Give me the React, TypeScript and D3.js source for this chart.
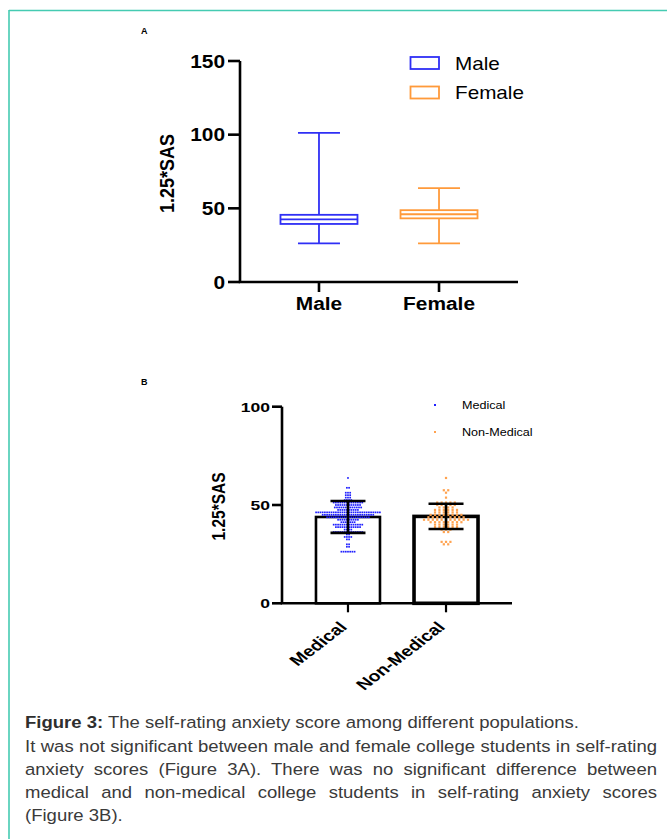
import React, { useEffect, useRef } from "react";
import * as d3 from "d3";

// ---------- Panel A data (box plot) ----------
const boxGroups = ["Male", "Female"];
const boxMin = [26.25, 26.25];
const boxQ1 = [39.4, 43.2];
const boxMedian = [42.5, 46.0];
const boxQ3 = [45.6, 48.75];
const boxMax = [101.25, 63.75];
const boxColors = ["#2f2ff5", "#ff9a3a"];
const yTicksA = [0, 50, 100, 150];

// ---------- Panel B data (bar + scatter) ----------
const barGroups = ["Medical", "Non-Medical"];
const barMean = [43.9, 44.2];
const barSD = [8.1, 6.4];
const yTicksB = [0, 50, 100];
const medicalLevels = [26.25, 28.75, 30, 32.5, 33.75, 35, 36.25, 37.5, 38.75, 40, 41.25, 42.5, 43.75, 45, 46.25, 47.5, 48.75, 50, 51.25, 52.5, 53.75, 55, 56.25, 58.75, 63.75];
const medicalCounts = [7, 2, 2, 2, 4, 2, 14, 4, 12, 14, 7, 10, 20, 24, 30, 10, 13, 12, 14, 4, 3, 3, 3, 2, 1];
const nonMedicalLevels = [30, 31.25, 36.25, 37.5, 38.75, 40, 41.25, 42.5, 43.75, 45, 46.25, 47.5, 48.75, 50, 51.25, 53.75, 56.25, 57.5, 63.75];
const nonMedicalCounts = [2, 3, 2, 3, 6, 6, 8, 11, 9, 8, 6, 6, 4, 5, 5, 1, 1, 2, 1];
const dotColors = ["#1f1fff", "#ffa24f"];

const captionTitle = "Figure 3:";
const captionLine1 = " The self-rating anxiety score among different populations.";
const captionBody = [
  "It was not significant between male and female college students in self-rating",
  "anxiety scores (Figure 3A). There was no significant difference between",
  "medical and non-medical college students in self-rating anxiety scores",
  "(Figure 3B).",
];

const FONT = "'Liberation Sans', Arial, Helvetica, sans-serif";
const CAP_SX = 1.09;
const CAP_LEFT = 25;
const CAP_WIDTH = 632;

function ST({ x, y, sx = 1, rot = 0, anchor = "start", size, weight = "normal", fill = "#000", children }: any) {
  return (
    <text
      transform={`translate(${x},${y}) scale(${sx},1)${rot ? ` rotate(${rot})` : ""}`}
      textAnchor={anchor}
      fontSize={size}
      fontWeight={weight}
      fill={fill}
      fontFamily={FONT}
    >
      {children}
    </text>
  );
}

export default function App() {
  const ref = useRef<SVGSVGElement>(null);

  useEffect(() => {
    if (!ref.current) return;
    d3.select(ref.current)
      .selectAll<SVGTextElement, unknown>("text.just")
      .each(function () {
        this.setAttribute("word-spacing", "0");
        const w = this.getComputedTextLength();
        const spaces = (this.textContent || "").split(" ").length - 1;
        if (spaces > 0) this.setAttribute("word-spacing", String((CAP_WIDTH / CAP_SX - w) / spaces));
      });
  }, []);

  // Panel A scales
  const yA = d3.scaleLinear().domain([0, 150]).range([282, 61]);
  const xA = d3.scalePoint<string>().domain(boxGroups).range([240, 518]).padding(0.658);
  const boxW = 77;
  const capW = 42;
  const sxA = 1.13;

  // Panel B scales
  const yB = d3.scaleLinear().domain([0, 100]).range([603.3, 406.7]);
  const xB = d3.scalePoint<string>().domain(barGroups).range([282, 512]).padding(0.673);
  const barW = 64;
  const errCap = 35;
  const sxB = 1.3;

  const scatter = [
    { levels: medicalLevels, counts: medicalCounts, spacing: 2.2, size: 1.7 },
    { levels: nonMedicalLevels, counts: nonMedicalCounts, spacing: 4.4, size: 2.2 },
  ];

  return (
    <svg ref={ref} width={667} height={839} style={{ position: "absolute", left: 0, top: 0, background: "#fff" }}>
      <rect x={0} y={0} width={667} height={839} fill="#fff" />
      {/* frame */}
      <line x1={9} y1={10.5} x2={667} y2={10.5} stroke="#45cbb2" strokeWidth={1.6} />
      <line x1={9} y1={10} x2={9} y2={839} stroke="#45cbb2" strokeWidth={1.6} />

      {/* ---------- Panel A ---------- */}
      <ST x={141} y={34} size={9} weight="bold">A</ST>
      <g>
        {boxGroups.map((g, i) => {
          const cx = xA(g)!;
          const c = boxColors[i];
          return (
            <g key={g} stroke={c} strokeWidth={1.8} fill="none">
              <line x1={cx} x2={cx} y1={yA(boxQ3[i])} y2={yA(boxMax[i])} />
              <line x1={cx} x2={cx} y1={yA(boxQ1[i])} y2={yA(boxMin[i])} />
              <line x1={cx - capW / 2} x2={cx + capW / 2} y1={yA(boxMax[i])} y2={yA(boxMax[i])} />
              <line x1={cx - capW / 2} x2={cx + capW / 2} y1={yA(boxMin[i])} y2={yA(boxMin[i])} />
              <rect x={cx - boxW / 2} y={yA(boxQ3[i])} width={boxW} height={yA(boxQ1[i]) - yA(boxQ3[i])} fill="#fff" />
              <line x1={cx - boxW / 2} x2={cx + boxW / 2} y1={yA(boxMedian[i])} y2={yA(boxMedian[i])} />
            </g>
          );
        })}
        {/* axes */}
        <line x1={240} x2={240} y1={yA(150)} y2={yA(0)} stroke="#000" strokeWidth={2.6} />
        <line x1={238.7} x2={518} y1={yA(0)} y2={yA(0)} stroke="#000" strokeWidth={2.6} />
        {yTicksA.map((t) => (
          <g key={t}>
            <line x1={228} x2={240} y1={yA(t)} y2={yA(t)} stroke="#000" strokeWidth={2.6} />
            <ST x={225} y={yA(t) + 6.7} sx={sxA} anchor="end" size={18.5} weight="bold">{t}</ST>
          </g>
        ))}
        {boxGroups.map((g) => (
          <g key={g}>
            <line x1={xA(g)!} x2={xA(g)!} y1={yA(0)} y2={yA(0) + 10} stroke="#000" strokeWidth={2.6} />
            <ST x={xA(g)!} y={310} sx={sxA} anchor="middle" size={18.5} weight="bold">{g}</ST>
          </g>
        ))}
        <ST x={174} y={yA(75) + 2} sx={1.1} rot={-90} anchor="middle" size={18} weight="bold">1.25*SAS</ST>
        {/* legend */}
        {boxGroups.map((g, i) => (
          <g key={g}>
            <rect x={410.5} y={57 + i * 29.5} width={28.5} height={12} fill="#fff" stroke={boxColors[i]} strokeWidth={1.8} />
            <ST x={455} y={69.8 + i * 29.5} sx={1.15} size={18}>{g}</ST>
          </g>
        ))}
      </g>

      {/* ---------- Panel B ---------- */}
      <ST x={141} y={385} size={9} weight="bold">B</ST>
      <g>
        {barGroups.map((g, i) => {
          const cx = xB(g)!;
          return (
            <rect
              key={g}
              x={cx - barW / 2}
              y={yB(barMean[i])}
              width={barW}
              height={yB(0) - yB(barMean[i])}
              fill="#fff"
              stroke="#000"
              strokeWidth={i === 0 ? 2.6 : 3.6}
            />
          );
        })}
        {scatter.map((s, gi) => {
          const cx = xB(barGroups[gi])!;
          const dots: JSX.Element[] = [];
          s.levels.forEach((v, li) => {
            const n = s.counts[li];
            for (let k = 0; k < n; k++) {
              const px = cx + (k - (n - 1) / 2) * s.spacing;
              dots.push(
                <rect
                  key={`${li}-${k}`}
                  x={px - s.size / 2}
                  y={yB(v) - s.size / 2}
                  width={s.size}
                  height={s.size}
                  fill={dotColors[gi]}
                />
              );
            }
          });
          return <g key={gi}>{dots}</g>;
        })}
        {barGroups.map((g, i) => {
          const cx = xB(g)!;
          const top = yB(barMean[i] + barSD[i]);
          const bot = yB(barMean[i] - barSD[i]);
          return (
            <g key={g} stroke="#000" strokeWidth={2.6}>
              <line x1={cx} x2={cx} y1={top} y2={bot} />
              <line x1={cx - errCap / 2} x2={cx + errCap / 2} y1={top} y2={top} />
              <line x1={cx - errCap / 2} x2={cx + errCap / 2} y1={bot} y2={bot} />
            </g>
          );
        })}
        {/* axes */}
        <line x1={282} x2={282} y1={yB(100)} y2={yB(0)} stroke="#000" strokeWidth={2.6} />
        <line x1={280.7} x2={512} y1={yB(0)} y2={yB(0)} stroke="#000" strokeWidth={2.6} />
        {yTicksB.map((t) => (
          <g key={t}>
            <line x1={272} x2={282} y1={yB(t)} y2={yB(t)} stroke="#000" strokeWidth={2.6} />
            <ST x={270} y={yB(t) + 5} sx={sxB} anchor="end" size={13.5} weight="bold">{t}</ST>
          </g>
        ))}
        {barGroups.map((g) => (
          <g key={g}>
            <line x1={xB(g)!} x2={xB(g)!} y1={yB(0)} y2={yB(0) + 9} stroke="#000" strokeWidth={2.2} />
            <ST x={xB(g)!} y={628} sx={sxB} rot={-45} anchor="end" size={15} weight="bold">{g}</ST>
          </g>
        ))}
        <ST x={225} y={506.5} sx={1.15} rot={-90} anchor="middle" size={15.5} weight="bold">1.25*SAS</ST>
        {/* legend */}
        {barGroups.map((g, i) => (
          <g key={g}>
            <rect x={434} y={404 + i * 27} width={2} height={2} fill={dotColors[i]} />
            <ST x={462} y={409 + i * 27} sx={1.2} size={10.5}>{g}</ST>
          </g>
        ))}
      </g>

      {/* ---------- Caption ---------- */}
      <g transform={`translate(${CAP_LEFT},0) scale(${CAP_SX},1)`}>
        <text x={0} y={728} fontSize={17} fontFamily={FONT} fill="#3a3a3a">
          <tspan fontWeight="bold" fill="#2e2e2e">{captionTitle}</tspan>
          {captionLine1}
        </text>
        {captionBody.map((line, i) => (
          <text
            key={i}
            className={i < captionBody.length - 1 ? "just" : undefined}
            x={0}
            y={752 + i * 23}
            fontSize={17}
            fontFamily={FONT}
            fill="#3a3a3a"
          >
            {line}
          </text>
        ))}
      </g>
    </svg>
  );
}
